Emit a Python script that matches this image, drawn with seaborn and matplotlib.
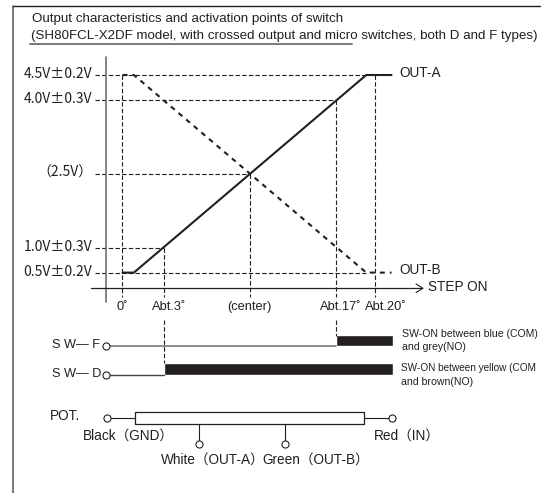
import matplotlib
matplotlib.use("Agg")
import matplotlib.pyplot as plt
import pandas as pd
import seaborn as sns

# values
out_a_deg = [0, 0.9, 19.3, 21.3]
out_a_volt = [0.5, 0.5, 4.5, 4.5]
out_b_deg = [0, 0.9, 19.3, 21.3]
out_b_volt = [4.5, 4.5, 0.5, 0.5]

volt_levels = [4.5, 4.0, 2.5, 1.0, 0.5]
volt_labels = ["4.5V±0.2V", "4.0V±0.3V", "（2.5V）", "1.0V±0.3V", "0.5V±0.2V"]
volt_guide_end = [19.3, 16.9, 10.1, 3.3, 19.3]

angle_ticks = [0, 3.3, 10.1, 16.9, 20.0]
angle_labels = ["0˚", "Abt.3˚", "(center)", "Abt.17˚", "Abt.20˚"]
angle_guide_top = [4.5, 1.0, 2.5, 4.0, 4.5]

sw_f_span = [16.9, 21.45]
sw_d_span = [3.3, 21.45]

sns.set_style("white")
plt.rcParams["font.family"] = ["Liberation Sans", "Noto Sans CJK JP"]

W, H = 541, 493
INK = "#231f20"
GREY = "#6d6e70"
FS = 9.8

fig = plt.figure(figsize=(W / 100, H / 100), dpi=100)

# data axes fills the whole figure, limits come from the pixel calibration
ax = fig.add_axes([0, 0, 1, 1])
ax.axis("off")

# overlay in pixels for the frame and the wiring part
pa = fig.add_axes([0, 0, 1, 1])
pa.set_xlim(0, W)
pa.set_ylim(H, 0)
pa.axis("off")
pa.patch.set_alpha(0)


def px(deg):
    return 122.5 + 12.63 * deg


guide = dict(color=INK, lw=0.8, ls=(0, (4, 2)))

# frame
pa.plot([12.5, 12.5], [H, 6], color="#555555", lw=1.1)
pa.plot([12.5, W], [6, 6], color="#222222", lw=1.0)

# title
pa.text(32, 19, "Output characteristics and activation points of switch", fontsize=9.6, va="center", color=INK)
pa.text(31, 36, "(SH80FCL-X2DF model, with crossed output and micro switches, both D and F types)",
        fontsize=9.6, va="center", color=INK)
pa.plot([30, 352], [44, 44], color=GREY, lw=1.3)

# guides
for v, lab, end in zip(volt_levels, volt_labels, volt_guide_end):
    ax.plot([-2.15, end], [v, v], **guide)
    ax.text(-2.4, v + 0.02, lab, ha="right", va="center", fontsize=10, color=INK,
            family=["Noto Sans CJK JP"])
for d, top in zip(angle_ticks, angle_guide_top):
    ax.plot([d, d], [top, 0.0], **guide)
for lab, x in zip(angle_labels, [122, 169, 249, 341, 386]):
    pa.text(x, 307, lab, ha="center", va="center", fontsize=9.3, color=INK)

# axes lines
pa.plot([106, 106], [57, 302], color=GREY, lw=1.2)
pa.plot([91, 422], [288.3, 288.3], color=INK, lw=0.9)
pa.plot([416, 423, 416], [284, 288.3, 292.5], color=INK, lw=0.8)

# output curves
curves = pd.DataFrame({"deg": out_a_deg, "volt": out_a_volt})
sns.lineplot(data=curves, x="deg", y="volt", ax=ax, color=INK, lw=1.5, sort=False, errorbar=None)
curves_b = pd.DataFrame({"deg": out_b_deg, "volt": out_b_volt})
sns.lineplot(data=curves_b, x="deg", y="volt", ax=ax, color=INK, lw=1.5, sort=False, errorbar=None,
             linestyle=(0, (2.4, 2.4)))
ax.set_xlim(-122.5 / 12.63, (W - 122.5) / 12.63)
ax.set_ylim(4.5 - (H - 75) / 49.4, 4.5 + 75 / 49.4)

pa.text(399, 73, "OUT-A", va="center", fontsize=FS, color=INK)
pa.text(399, 270, "OUT-B", va="center", fontsize=FS, color=INK)
pa.text(428, 287, "STEP ON", va="center", fontsize=FS, color=INK)

# switches
pa.plot([px(sw_f_span[0])] * 2, [320, 336], **guide)
pa.plot([px(sw_d_span[0])] * 2, [320, 363], **guide)
pa.plot([109, px(sw_f_span[0])], [346, 346], color=GREY, lw=1.1)
pa.plot([109, px(sw_d_span[0])], [374.5, 374.5], color="#444444", lw=1.0)
pa.barh(340.5, px(sw_f_span[1]) - px(sw_f_span[0]), left=px(sw_f_span[0]), height=11.5, color=INK)
pa.barh(369, px(sw_d_span[1]) - px(sw_d_span[0]), left=px(sw_d_span[0]), height=12.5, color=INK)
pa.text(52, 345, "S W— F", va="center", fontsize=9.2, color=INK)
pa.text(52, 374, "S W— D", va="center", fontsize=9.2, color=INK)

small = dict(va="center", color=INK, family=["Liberation Sans Narrow", "Liberation Sans"])
pa.text(402, 334, "SW-ON between blue (COM)", fontsize=7.6, **small)
pa.text(402, 347, "and grey(NO)", fontsize=7.6, **small)
pa.text(401, 368, "SW-ON between yellow (COM", fontsize=7.2, **small)
pa.text(401, 382, "and brown(NO)", fontsize=7.6, **small)

# potentiometer
pa.plot([110, 135], [418, 418], color=INK, lw=0.8)
pa.plot([364, 389], [418, 418], color=INK, lw=0.8)
pa.plot([135, 364, 364, 135, 135], [412.3, 412.3, 423.7, 423.7, 412.3], color=INK, lw=0.9)
pa.plot([199, 199], [424, 441], color=INK, lw=0.8)
pa.plot([285, 285], [424, 441], color=INK, lw=0.8)
circ_x = [106, 106, 106.5, 392, 199, 285]
circ_y = [346, 375, 418, 418, 444, 444]
pa.scatter(circ_x, circ_y, s=26, facecolor="white", edgecolor=INK, linewidth=0.8, zorder=5)

pa.text(50, 416, "POT.", va="center", fontsize=FS, color=INK)
pa.text(83, 436, "Black（GND）", va="center", fontsize=FS, color=INK)
pa.text(374, 436, "Red（IN）", va="center", fontsize=FS, color=INK)
pa.text(161, 460, "White（OUT-A）", va="center", fontsize=FS, color=INK)
pa.text(262, 460, "Green（OUT-B）", va="center", fontsize=FS, color=INK)

fig.savefig("out.png", dpi=100, facecolor="white")
